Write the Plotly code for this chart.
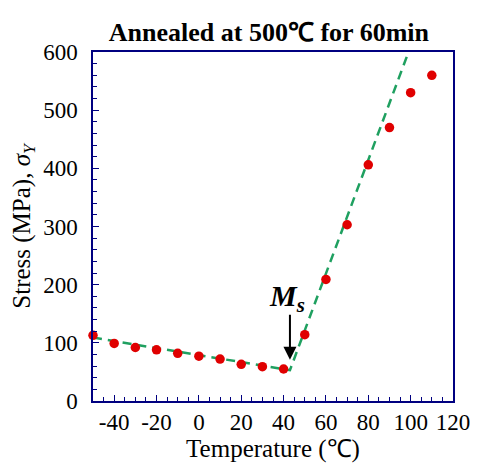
import plotly.graph_objects as go

temps = [-50, -40, -30, -20, -10, 0, 10, 20, 30, 40, 50, 60, 70, 80, 90, 100, 110]
stress = [113, 99, 92, 88, 82, 77, 72, 63, 59, 55, 114, 209, 303, 406, 470, 530, 560]

fit_x = [-50, 43, 99]
fit_y = [109, 53, 600]

ms_temp = 43
arrow_from = 151
arrow_to = 71

navy = "#000080"
font_family = "Liberation Serif, Times New Roman, serif"

fig = go.Figure()
fig.add_trace(go.Scatter(x=fit_x, y=fit_y, mode="lines",
                         line=dict(color="#1fa060", width=2.5, dash="9px,6px"),
                         hoverinfo="skip", cliponaxis=True))
fig.add_trace(go.Scatter(x=temps, y=stress, mode="markers",
                         marker=dict(color="#e00000", size=9.5, line=dict(width=0)),
                         cliponaxis=False))

fig.add_annotation(x=ms_temp, y=arrow_to, ax=ms_temp, ay=arrow_from,
                   xref="x", yref="y", axref="x", ayref="y",
                   showarrow=True, arrowhead=2, arrowsize=1.3, arrowwidth=2,
                   arrowcolor="black", text="")
fig.add_annotation(x=ms_temp, y=arrow_from, xref="x", yref="y",
                   text="<b><i>M</i></b><sub><b><i>s</i></b></sub>",
                   showarrow=False, yanchor="bottom", xanchor="center", yshift=-6, xshift=-3,
                   font=dict(family=font_family, size=30, color="black"))

fig.update_layout(
    width=477, height=457,
    margin=dict(l=81, r=32, t=44, b=51),
    plot_bgcolor="white", paper_bgcolor="white",
    showlegend=False,
    title=dict(text="<b>Annealed at 500℃ for 60min</b>", x=0.547, xanchor="center",
               y=0.9475, yanchor="middle",
               font=dict(family=font_family, size=26, color="black")),
    font=dict(family=font_family, size=23, color="black"),
)
fig.update_xaxes(range=[-50, 120], tickmode="array",
                 tickvals=[-40, -20, 0, 20, 40, 60, 80, 100, 120],
                 ticktext=["-40", "-20", "0", "20", "40", "60", "80", "100", "120"],
                 ticks="inside", ticklen=6, tickcolor=navy, tickwidth=1,
                 minor=dict(dtick=5, tick0=0, ticks="inside", ticklen=4, tickcolor=navy),
                 showline=True, linecolor=navy, linewidth=1.5, mirror=True,
                 showgrid=False, zeroline=False,
                 ticklabelstandoff=0,
                 tickfont=dict(size=23, family=font_family),
                 title=dict(text="Temperature (℃)", standoff=0,
                            font=dict(size=25, family=font_family)))
fig.update_yaxes(range=[0, 600], tickmode="array",
                 tickvals=[0, 100, 200, 300, 400, 500, 600],
                 ticks="inside", ticklen=6, tickcolor=navy, tickwidth=1,
                 minor=dict(dtick=20, tick0=0, ticks="inside", ticklen=4, tickcolor=navy),
                 showline=True, linecolor=navy, linewidth=1.5, mirror=True,
                 showgrid=False, zeroline=False,
                 ticklabelstandoff=9,
                 tickfont=dict(size=23, family=font_family),
                 title=dict(text="Stress (MPa), <i>σ</i><sub><i>Y</i></sub>", standoff=6,
                            font=dict(size=25, family=font_family)))

fig.write_html("out.html")
